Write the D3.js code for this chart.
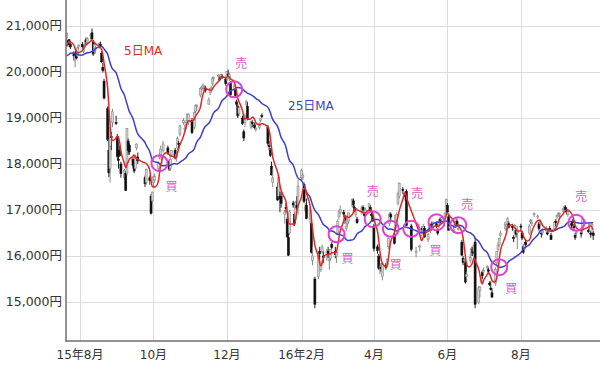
<!DOCTYPE html>
<html>
<head>
<meta charset="utf-8">
<script src="https://cdn.jsdelivr.net/npm/d3@7"></script>
<style>
  body { margin: 0; background: #fff; }
  svg { display: block; font-family: 'DejaVu Sans', 'Noto Sans CJK JP', sans-serif; }
</style>
</head>
<body>
<svg id="chart" width="600" height="366"></svg>
<script>
// daily candles: [day, open, high, low, close]
const jun15 = [[16,20350,20400,20150,20258],[17,20250,20330,20100,20219],[18,20150,20200,19940,19990],[19,20050,20210,20030,20174],[22,20300,20440,20250,20428],[23,20650,20870,20620,20809],[24,20800,20950,20780,20868],[25,20850,20880,20700,20771],[26,20700,20790,20620,20706],[29,20300,20350,20090,20109],[30,20300,20380,20120,20235]]
const jul15 = [[1,20300,20400,20250,20329],[2,20450,20550,20400,20522],[3,20500,20570,20450,20539],[6,20050,20250,20000,20112],[7,20200,20420,20100,20376],[8,20300,20320,19700,19737],[9,19500,19950,19115,19855],[10,19900,20000,19650,19779],[13,20050,20120,19950,20089],[14,20250,20400,20200,20385],[15,20400,20500,20380,20463],[16,20550,20620,20520,20600],[17,20620,20680,20580,20650],[21,20750,20860,20700,20841],[22,20680,20700,20550,20593],[23,20700,20720,20600,20683],[24,20600,20650,20500,20544],[27,20400,20450,20250,20350],[28,20250,20380,20100,20328],[29,20450,20480,20280,20302],[30,20350,20550,20320,20522],[31,20550,20600,20480,20585]]
const aug15 = [[3,20600,20650,20480,20548],[4,20450,20550,20400,20520],[5,20600,20680,20550,20614],[6,20700,20750,20600,20664],[7,20650,20760,20600,20724],[10,20800,20850,20700,20808],[11,20850,20946,20700,20720],[12,20650,20700,20350,20392],[13,20450,20620,20400,20595],[14,20500,20560,20400,20519],[17,20550,20650,20500,20620],[18,20600,20660,20520,20554],[19,20400,20450,20200,20222],[20,20100,20200,19990,20033],[21,19800,19850,19400,19435],[24,19200,19250,18500,18540],[25,18300,18800,17714,17806],[26,17900,18400,17600,18376],[27,18600,18700,18300,18574],[28,18900,19200,18800,19136],[31,18900,19050,18850,18890]]
const sep15 = [[1,18600,18650,18100,18165],[2,18100,18300,17900,18095],[3,18300,18400,18150,18182],[4,18000,18050,17700,17792],[7,17700,17900,17650,17860],[8,17800,17850,17415,17427],[9,17800,18780,17750,18770],[10,18500,18550,18200,18299],[11,18400,18450,18200,18264],[14,18100,18150,17900,17965],[15,17950,18050,17800,17849],[16,17900,18200,17850,18171],[17,18350,18450,18300,18432],[18,18150,18250,18000,18070],[24,17700,17750,17500,17571],[25,17600,17900,17550,17880],[28,17700,17750,17550,17645],[29,17300,17350,16901,16930],[30,17200,17400,17150,17388]]
const oct15 = [[1,17600,17750,17500,17722],[2,17650,17800,17600,17725],[5,17900,18050,17850,18005],[6,18150,18250,18100,18186],[7,18200,18400,18150,18322],[8,18100,18200,18000,18141],[9,18300,18500,18250,18438],[13,18350,18400,18200,18234],[14,18050,18100,17850,17891],[15,17900,18150,17850,18096],[16,18200,18300,18150,18291],[19,18300,18350,18100,18131],[20,18150,18250,18050,18207],[21,18350,18600,18300,18554],[22,18450,18500,18350,18435],[23,18650,18850,18600,18825],[26,18900,19000,18850,18947],[27,18750,18850,18700,18777],[28,18850,18950,18750,18903],[29,18950,19100,18900,19083],[30,18900,19100,18850,19083]]
const nov15 = [[2,18950,19000,18650,18683],[4,18800,19150,18750,19116],[5,19150,19300,19100,19265],[6,19250,19300,19150,19265],[9,19500,19650,19450,19642],[10,19650,19700,19600,19671],[11,19650,19750,19600,19697],[12,19650,19720,19600,19691],[13,19650,19700,19550,19596],[16,19300,19450,19300,19394],[17,19550,19650,19500,19649],[18,19600,19700,19550,19650],[19,19750,19900,19700,19859],[20,19850,19900,19800,19879],[24,19900,19950,19850,19924],[25,19850,19900,19800,19847],[26,19900,19960,19850,19944],[27,19900,19950,19850,19883],[30,19850,19900,19700,19747]]
const dec15 = [[1,19850,20020,19800,20012],[2,19950,20050,19900,19938],[3,19850,19990,19800,19940],[4,19750,19800,19450,19504],[7,19650,19750,19600,19698],[8,19600,19650,19450,19492],[9,19350,19400,19250,19301],[10,19250,19300,19000,19046],[11,19100,19250,19050,19230],[14,19000,19050,18850,18883],[15,18700,18750,18500,18565],[16,18900,19100,18800,19049],[17,19300,19400,19250,19353],[18,19250,19350,18950,18986],[21,18800,18950,18750,18916],[22,18900,18950,18800,18886],[24,18850,18900,18750,18789],[25,18750,18800,18700,18769],[28,18800,18900,18750,18873],[29,18950,19000,18900,18982],[30,19050,19100,19000,19033]]
const jan16 = [[4,18800,18850,18400,18450],[5,18400,18500,18300,18374],[6,18300,18350,18150,18191],[7,17950,18050,17750,17767],[8,17600,17900,17500,17697],[12,17500,17600,17200,17218],[13,17300,17750,17250,17715],[14,17300,17400,16950,17240],[15,17300,17400,17050,17147],[18,16900,17000,16700,16955],[19,17050,17150,16950,17048],[20,16800,16850,16400,16416],[21,16400,16700,16000,16017],[22,16500,17000,16450,16958],[25,17150,17200,17050,17110],[26,16900,16950,16650,16708],[27,16800,17200,16750,17163],[28,17100,17300,17000,17041],[29,17300,17650,16900,17518]]
const feb16 = [[1,17700,17900,17650,17865],[2,17700,17800,17650,17750],[3,17550,17600,17150,17191],[4,17000,17150,16950,17067],[5,17100,17250,16800,16819],[8,16800,17050,16700,17004],[9,16700,16750,16050,16085],[10,15900,16200,15800,16002],[12,15500,15550,14865,14952],[15,15550,16050,15500,16022],[16,16100,16200,15900,16054],[17,15700,15900,15650,15836],[18,16100,16250,16050,16196],[19,16000,16100,15850,15967],[22,16000,16150,15900,16111],[23,16100,16200,15950,16052],[24,15900,15950,15700,15916],[25,15950,16150,15900,16140],[26,16250,16300,16150,16188],[29,16100,16200,15950,16027]]
const mar16 = [[1,16000,16100,15850,16085],[2,16500,16800,16450,16747],[3,16850,17000,16800,16960],[4,16950,17100,16900,17015],[7,16950,17000,16850,16911],[8,16850,16900,16700,16784],[9,16600,16700,16550,16642],[10,16700,16900,16650,16852],[11,16750,16950,16700,16939],[14,17100,17250,17050,17233],[15,17200,17250,17050,17117],[16,17050,17100,16950,16974],[17,16900,17000,16850,16936],[18,16800,16850,16700,16725],[22,16950,17100,16900,17049],[23,17050,17100,16950,17001],[24,16900,16950,16850,16892],[25,16950,17050,16900,17002],[28,17050,17150,17000,17134],[29,17050,17100,16950,16983],[30,16900,16950,16850,16879],[31,16850,16900,16750,16759]]
const apr16 = [[1,16650,16700,16100,16164],[4,16200,16250,16050,16123],[5,16000,16050,15700,15733],[6,15700,15800,15600,15715],[7,15750,15850,15650,15749],[8,15550,15850,15470,15821],[11,15800,15850,15700,15751],[12,15800,15950,15750,15928],[13,16200,16400,16150,16381],[14,16700,16950,16650,16911],[15,16900,16950,16750,16848],[18,16450,16500,16250,16276],[19,16600,16900,16550,16875],[20,16700,16950,16650,16906],[21,17150,17400,17100,17364],[22,17300,17600,17250,17572],[25,17450,17500,17350,17440],[26,17350,17400,17250,17353],[27,17350,17400,17200,17290],[28,17400,17450,16650,16666]]
const may16 = [[2,16650,16700,16100,16147],[6,16100,16200,15975,16106],[9,16200,16250,16100,16216],[10,16450,16600,16400,16565],[11,16600,16650,16500,16579],[12,16500,16700,16450,16646],[13,16600,16650,16400,16412],[16,16350,16500,16300,16466],[17,16600,16700,16550,16652],[18,16550,16700,16500,16644],[19,16700,16750,16600,16646],[20,16700,16750,16600,16736],[23,16700,16750,16600,16654],[24,16550,16600,16450,16498],[25,16650,16800,16600,16757],[26,16800,16850,16700,16772],[27,16800,16850,16750,16834],[30,16850,16950,16800,16931],[31,16950,17250,16900,17234]]
const jun16 = [[1,17100,17150,16950,16955],[2,16850,16900,16550,16562],[3,16600,16700,16550,16642],[6,16550,16650,16500,16580],[7,16650,16750,16600,16675],[8,16750,16850,16700,16830],[9,16750,16800,16650,16668],[10,16600,16700,16550,16601],[13,16300,16350,16000,16019],[14,15950,16000,15800,15859],[15,15900,15950,15800,15919],[16,15850,15900,15400,15434],[17,15550,15650,15450,15599],[20,15900,16050,15850,15965],[21,16050,16200,16000,16169],[22,16150,16200,16000,16065],[23,16100,16250,16050,16238],[24,16300,16400,14864,14952],[27,15000,15350,14950,15309],[28,15250,15350,15100,15323],[29,15450,15600,15400,15566],[30,15650,15700,15500,15575]]
const jul16 = [[1,15650,15750,15600,15682],[4,15750,15800,15700,15775],[5,15700,15750,15600,15669],[6,15400,15450,15350,15378],[7,15300,15450,15250,15276],[8,15200,15300,15100,15106],[11,15400,15750,15350,15708],[12,15850,16100,15800,16095],[13,16150,16300,16100,16231],[14,16250,16400,16200,16385],[15,16450,16550,16400,16497],[19,16600,16750,16550,16723],[20,16650,16700,16550,16681],[21,16750,16850,16700,16810],[22,16700,16750,16600,16627],[25,16650,16700,16550,16620],[26,16400,16450,16300,16383],[27,16500,16700,16450,16664],[28,16550,16600,16400,16476],[29,16500,16650,16150,16569]]
const aug16 = [[1,16650,16700,16550,16635],[2,16500,16550,16350,16391],[3,16200,16250,16050,16083],[4,16150,16300,16100,16254],[5,16300,16350,16200,16254],[8,16500,16700,16450,16650],[9,16750,16800,16700,16764],[10,16700,16800,16650,16735],[12,16900,16950,16850,16919],[15,16850,16900,16800,16869],[16,16700,16750,16550,16596],[17,16700,16800,16650,16745],[18,16500,16550,16400,16486],[19,16500,16600,16450,16545],[22,16550,16650,16500,16598],[23,16500,16550,16450,16497],[24,16550,16600,16500,16555],[25,16600,16650,16550,16586],[26,16450,16500,16350,16360],[29,16600,16750,16550,16737],[30,16750,16800,16650,16725],[31,16850,16900,16800,16887]]
const sep16 = [[1,16900,16950,16850,16926],[2,16900,16950,16850,16925],[5,17000,17050,16950,17037],[6,17050,17100,17000,17081],[7,17050,17100,16950,17012],[8,17000,17050,16900,16958],[9,16900,17000,16850,16965],[12,16700,16750,16600,16672],[13,16750,16800,16650,16729],[14,16650,16700,16550,16614],[15,16450,16500,16350,16405],[16,16500,16550,16400,16519],[20,16500,16550,16400,16492],[21,16550,16850,16500,16807],[23,16750,16800,16650,16754],[26,16550,16600,16500,16544],[27,16650,16700,16550,16683],[28,16500,16550,16400,16465],[29,16650,16700,16550,16693],[30,16500,16550,16350,16449]]

const months = [
  ['2015-06', jun15], ['2015-07', jul15], ['2015-08', aug15], ['2015-09', sep15],
  ['2015-10', oct15], ['2015-11', nov15], ['2015-12', dec15], ['2016-01', jan16],
  ['2016-02', feb16], ['2016-03', mar16], ['2016-04', apr16], ['2016-05', may16],
  ['2016-06', jun16], ['2016-07', jul16], ['2016-08', aug16], ['2016-09', sep16]
]

const yTicks = [15000, 16000, 17000, 18000, 19000, 20000, 21000]
const xTickDates = ['2015-08-01', '2015-10-01', '2015-12-01', '2016-02-01', '2016-04-01', '2016-06-01', '2016-08-01']
const xTickLabels = ['15年8月', '10月', '12月', '16年2月', '4月', '6月', '8月']

// crossover signals of 5日MA / 25日MA
const signalDates = ['2015-10-06', '2015-12-07', '2016-03-01', '2016-03-31', '2016-04-15', '2016-05-02', '2016-05-23', '2016-06-10', '2016-07-14', '2016-09-16']
const signalTypes = ['買', '売', '買', '売', '買', '売', '買', '売', '買', '売']
const labelOffsets = [[12, 24], [7, -26], [11, 24], [0, -27], [5, 36], [6, -35], [-1, 29], [9, -20], [12, 22], [5, -26]]

const parse = d3.timeParse('%Y-%m-%d')

const data = months.flatMap(([ym, rows]) => rows.map(([d, o, h, l, c]) => ({
  date: parse(`${ym}-${String(d).padStart(2, '0')}`), o, h, l, c
})))

function movingAverage(n) {
  return data.map((d, i) => i < n - 1 ? null : {
    date: d.date,
    v: d3.mean(data.slice(i - n + 1, i + 1), (e) => e.c)
  }).filter((d) => d)
}
const ma5 = movingAverage(5)
const ma25 = movingAverage(25)

const plotLeft = 66, plotRight = 600, plotTop = 0, plotBottom = 341

const x = d3.scaleTime([parse('2015-07-20'), parse('2016-10-04')], [65.5, 598])
const y = d3.scaleLinear([14152, 21565], [plotBottom, plotTop])

const svg = d3.select('#chart')

svg.append('clipPath').attr('id', 'plot')
  .append('rect').attr('x', plotLeft).attr('y', plotTop)
  .attr('width', plotRight - plotLeft).attr('height', plotBottom - plotTop)

const grid = svg.append('g').attr('stroke', '#dcdcdc').attr('stroke-width', 1)
grid.selectAll('.hy').data(yTicks).join('line')
  .attr('x1', plotLeft).attr('x2', plotRight)
  .attr('y1', (d) => Math.round(y(d)) + 0.5).attr('y2', (d) => Math.round(y(d)) + 0.5)
grid.selectAll('.vx').data(xTickDates).join('line')
  .attr('x1', (d) => Math.round(x(parse(d))) + 0.5).attr('x2', (d) => Math.round(x(parse(d))) + 0.5)
  .attr('y1', plotTop).attr('y2', plotBottom)

const plot = svg.append('g').attr('clip-path', 'url(#plot)')

const candles = plot.selectAll('.candle').data(data).join('g').classed('candle', true)
candles.append('line')
  .attr('x1', (d) => x(d.date)).attr('x2', (d) => x(d.date))
  .attr('y1', (d) => y(d.h)).attr('y2', (d) => y(d.l))
  .attr('stroke', (d) => d.c < d.o ? '#222' : '#8a8a8a')
  .attr('stroke-width', 1)
candles.append('rect')
  .attr('x', (d) => x(d.date) - 1)
  .attr('width', 2)
  .attr('y', (d) => y(Math.max(d.o, d.c)))
  .attr('height', (d) => Math.max(1, Math.abs(y(d.o) - y(d.c))))
  .attr('fill', (d) => d.c < d.o ? '#111' : '#d4d4d4')
  .attr('stroke', (d) => d.c < d.o ? '#111' : '#8a8a8a')
  .attr('stroke-width', 0.6)

const line = d3.line().x((d) => x(d.date)).y((d) => y(d.v)).curve(d3.curveBasis)

plot.append('path').datum(ma25)
  .attr('fill', 'none').attr('stroke', '#3f3fcf').attr('stroke-width', 1.5)
  .attr('d', line)
plot.append('path').datum(ma5)
  .attr('fill', 'none').attr('stroke', '#e02828').attr('stroke-width', 1.5)
  .attr('d', line)

const ma25ByTime = new Map(ma25.map((d) => [+d.date, d.v]))
const signals = signalDates.map((s, i) => ({
  date: parse(s), type: signalTypes[i], v: ma25ByTime.get(+parse(s)), off: labelOffsets[i]
}))

svg.selectAll('.sig').data(signals).join('circle')
  .attr('cx', (d) => x(d.date)).attr('cy', (d) => y(d.v)).attr('r', 8)
  .attr('fill', 'none').attr('stroke', '#e23fd2').attr('stroke-width', 2)

svg.selectAll('.sig-label').data(signals).join('text')
  .attr('x', (d) => x(d.date) + d.off[0]).attr('y', (d) => y(d.v) + d.off[1])
  .attr('text-anchor', 'middle').attr('dy', '0.35em')
  .attr('fill', '#e455c8').style('font-size', '12px')
  .style('font-family', "'Noto Sans CJK JP', sans-serif")
  .text((d) => d.type)

svg.append('text').attr('x', 124).attr('y', 55)
  .attr('fill', '#e02828').style('font-size', '12px').text('5日MA')
svg.append('text').attr('x', 288).attr('y', 110)
  .attr('fill', '#3f3fcf').style('font-size', '12px').text('25日MA')

// axes
svg.append('line').attr('x1', plotLeft).attr('x2', plotLeft).attr('y1', plotTop).attr('y2', plotBottom + 1)
  .attr('stroke', '#6e6e6e').attr('stroke-width', 1.5)
svg.append('line').attr('x1', plotLeft).attr('x2', plotRight).attr('y1', plotBottom).attr('y2', plotBottom)
  .attr('stroke', '#6e6e6e').attr('stroke-width', 1.5)

svg.selectAll('.ylab').data(yTicks).join('text')
  .attr('x', 62).attr('y', (d) => y(d)).attr('dy', '0.36em')
  .attr('text-anchor', 'end').attr('fill', '#333').style('font-size', '12.5px')
  .text((d) => d3.format(',')(d) + '円')

svg.selectAll('.xlab').data(xTickDates).join('text')
  .attr('x', (d) => x(parse(d))).attr('y', 359)
  .attr('text-anchor', 'middle').attr('fill', '#333').style('font-size', '12px')
  .text((d, i) => xTickLabels[i])
</script>
</body>
</html>
